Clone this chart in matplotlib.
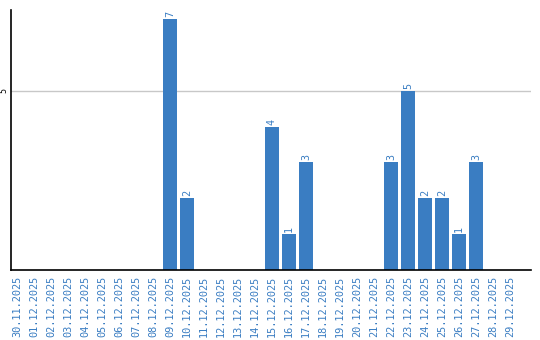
import matplotlib
matplotlib.use('Agg')
import matplotlib.pyplot as plt

dates = ['30.11.2025', '01.12.2025', '02.12.2025', '03.12.2025', '04.12.2025',
         '05.12.2025', '06.12.2025', '07.12.2025', '08.12.2025', '09.12.2025',
         '10.12.2025', '11.12.2025', '12.12.2025', '13.12.2025', '14.12.2025',
         '15.12.2025', '16.12.2025', '17.12.2025', '18.12.2025', '19.12.2025',
         '20.12.2025', '21.12.2025', '22.12.2025', '23.12.2025', '24.12.2025',
         '25.12.2025', '26.12.2025', '27.12.2025', '28.12.2025', '29.12.2025']
counts = [0, 0, 0, 0, 0, 0, 0, 0, 0, 7,
          2, 0, 0, 0, 0, 4, 1, 3, 0, 0,
          0, 0, 3, 5, 2, 2, 1, 3, 0, 0]

blue = '#3a7dc2'

fig = plt.figure(figsize=(5.4, 3.4), dpi=100)
ax = fig.add_axes([0.0204, 0.206, 0.963, 0.765])

x = list(range(len(dates)))
ax.bar(x, counts, width=0.82, color=blue, zorder=2)

for i, c in zip(x, counts):
    if c > 0:
        ax.text(i, c + 0.06, str(c), rotation=90, ha='center', va='bottom',
                color=blue, fontsize=7.3, family='DejaVu Sans Mono')

ax.set_xlim(-0.35, 30.24)
ax.set_ylim(0, 7.26)
ax.set_yticks([5])
ax.set_yticklabels(['5'], rotation=90, va='center', fontsize=6,
                   family='DejaVu Sans Mono')
ax.yaxis.grid(True, color='#c8c8c8', linewidth=1, zorder=0)
ax.set_xticks(x)
ax.set_xticklabels(dates, rotation=90, color=blue, fontsize=7.4,
                   family='DejaVu Sans Mono')
ax.tick_params(axis='both', length=0, pad=4)
ax.tick_params(axis='y', pad=2)

for s in ['top', 'right']:
    ax.spines[s].set_visible(False)
for s in ['left', 'bottom']:
    ax.spines[s].set_color('black')
    ax.spines[s].set_linewidth(1.2)

fig.savefig('out.png', dpi=100)
